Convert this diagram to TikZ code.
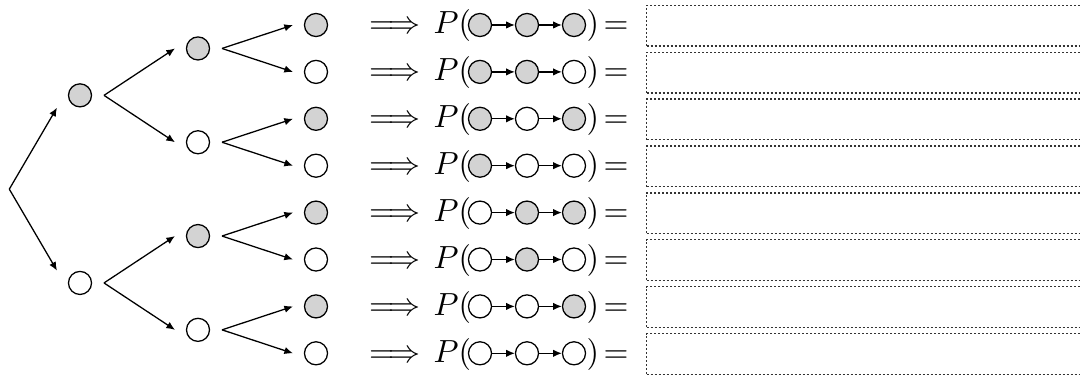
\documentclass[tikz,border=0pt]{standalone}
\usetikzlibrary{arrows.meta,calc}
\definecolor{nodegray}{RGB}{211,211,211}
\begin{document}
\begin{tikzpicture}[x=0.3125pt,y=-0.3125pt,
  bead/.style={circle,draw,line width=0.4pt,minimum size=7.2pt,inner sep=0pt},
  g/.style={bead,fill=nodegray},
  w/.style={bead,fill=white},
  arr/.style={line width=0.4pt,-{Latex[length=2.7pt,width=2.3pt]}},
  box/.style={draw=black!80,line width=0.4pt,dash pattern=on 0.6pt off 0.65pt,inner sep=0pt,
              minimum width=142pt,minimum height=12.7pt,anchor=north west},
  txt/.style={anchor=base,inner sep=0pt}]
\clip (0,0) rectangle (1080,376);
\useasboundingbox (0,0) rectangle (1080,376);
% tree
\coordinate (root) at (9.3,189.15);
\node[g] (A1) at (80,95.35) {};
\node[w] (A2) at (80,282.95) {};
\node[g] (B1) at (198,48.45) {};
\node[w] (B2) at (198,142.25) {};
\node[g] (B3) at (198,236.05) {};
\node[w] (B4) at (198,329.85) {};
\coordinate (A1in) at ($(A1)+(-23,12.3)$);
\coordinate (A2in) at ($(A2)+(-23,-12.3)$);
\draw[arr] (root) -- (A1in);
\draw[arr] (root) -- (A2in);
\foreach \a/\b/\c in {A1/B1/B2, A2/B3/B4}{
  \coordinate (\a out) at ($(\a)+(24,0)$);
  \coordinate (\b in) at ($(\b)+(-23,0)$);
  \coordinate (\c in) at ($(\c)+(-23,0)$);
  \draw[arr] (\a out) -- (\b in);
  \draw[arr] (\a out) -- (\c in);
}
\foreach \k/\ca/\cb/\cc/\pn in {1/g/g/g/B1, 2/g/g/w/B1, 3/g/w/g/B2, 4/g/w/w/B2,
                                 5/w/g/g/B3, 6/w/g/w/B3, 7/w/w/g/B4, 8/w/w/w/B4}{
  \pgfmathsetmacro\ry{25+46.9*(\k-1)}
  \node[\cc] (C\k) at (316,\ry) {};
  \coordinate (C\k in) at ($(C\k)+(-23,0)$);
  \coordinate (\pn out\k) at ($(\pn)+(24,0)$);
  \draw[arr] (\pn out\k) -- (C\k in);
  \node[txt] (imp\k) at (395,\ry+9) {$\Longrightarrow$};
  \node[txt,anchor=base west] (p\k) at (433,\ry+9) {$P($};
  \node[\ca] (Pa\k) at (480,\ry) {};
  \node[\cb] (Pb\k) at (527,\ry) {};
  \node[\cc] (Pc\k) at (574,\ry) {};
  \draw[arr] (Pa\k) -- (Pb\k);
  \draw[arr] (Pb\k) -- (Pc\k);
  \node[txt,anchor=base west] (cl\k) at (586,\ry+9) {$)$};
  \node[txt] (eq\k) at (616,\ry+9) {$=$};
  \node[box] (ans\k) at (646,\ry-20.3) {};
}
\end{tikzpicture}
\end{document}
